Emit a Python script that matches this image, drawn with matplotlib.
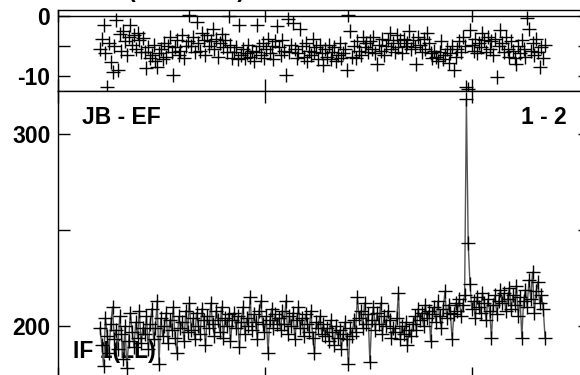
import numpy as np
import matplotlib
matplotlib.use("Agg")
import matplotlib.pyplot as plt

# ---- data ----
t_start = 0.203      # first sample time (axis units, 1 unit = major tick)
t_step = 0.008634    # sampling interval

amplitude = [
    199, 190, 179, 204, 195, 186, 201, 210, 193, 198, 188, 205, 196, 183, 200, 178, 192, 207, 197, 189, 202, 194, 208, 191, 199,
    196, 205, 188, 201, 209, 193, 199, 213, 180, 204, 195, 200, 207, 191, 203, 198, 210, 194, 186, 205, 199, 202, 192, 208, 197,
    212, 198, 204, 193, 207, 200, 196, 209, 203, 190, 205, 199, 212, 201, 195, 208, 203, 197, 210, 194, 204, 200, 206, 192, 203,
    207, 199, 205, 189, 202, 210, 196, 204, 200, 215, 198, 206, 202, 193, 208, 213, 201, 197, 205, 186, 203, 209, 199, 206, 201,
    204, 198, 208, 201, 213, 196, 205, 200, 207, 193, 203, 210, 199, 204, 195, 206, 201, 197, 208, 194, 186, 202, 199, 205, 196,
    201, 195, 199, 192, 203, 197, 190, 200, 194, 198, 188, 196, 202, 193, 180, 199, 195, 203, 197, 215, 204, 208, 199, 212, 201,
    206, 181, 203, 210, 198, 207, 201, 212, 196, 205, 200, 208, 203, 194, 199, 197, 204, 217, 193, 200, 196, 202, 190, 198, 195,
    201, 205, 198, 209, 203, 207, 200, 211, 204, 208, 192, 206, 210, 202, 213, 205, 199, 209, 218, 204, 211, 207, 193, 206, 212,
    208, 214, 205, 211, 216, 318, 243, 222, 209, 213, 204, 215, 210, 207, 217, 212, 203, 214, 208, 194, 211, 216, 206, 213, 219,
    212, 217, 208, 214, 220, 209, 216, 211, 221, 205, 215, 194, 213, 219, 210, 224, 214, 228, 207, 218, 223, 212, 216, 209, 194,
]

phase = [
    -5.5, -3.8, -1.5, -6.2, -11.8, -4.5, -7.6, -9.3, -5.0, -0.7, -9.0, -3.0, -5.8, -2.5, -4.2, -6.5, -3.5, -1.5, -4.8, -3.2, -5.5, -2.8, -4.0, -6.0, -3.6,
    -6.0, -8.7, -5.2, -7.0, -6.5, -4.8, -7.5, -8.5, -6.2, -5.5, -7.2, -4.5, -6.8, -5.0, -3.5, -6.0, -9.8, -5.2, -4.0, -6.5, -5.8, -3.2, -7.0, -5.0, -4.2,
    0.2, -5.0, -3.5, -6.0, -1.0, -4.5, -5.8, -2.8, -4.0, -6.5, -3.2, -5.0, -4.2, -2.2, -5.5, -3.8, -6.8, -4.5, -3.0, -5.2, -4.0, -6.0, 0.0, -4.8, -7.0,
    -6.0, -5.2, -7.2, -1.5, -6.5, -5.5, -7.0, -6.2, -4.8, -6.8, -5.8, -7.5, -6.0, -1.5, -5.0, -6.5, -4.5, -7.0, -5.5, -3.8, -6.2, -5.0, -7.2, -4.2, -1.7,
    -5.2, -6.5, -4.0, -5.8, -9.8, -0.5, -6.0, -4.8, -1.2, -5.5, -7.0, -6.2, -2.2, -5.0, -6.8, -4.5, -7.5, -5.8, -6.5, -3.8, -6.0, -5.2, -7.2, -4.8, -6.2,
    -8.2, -5.5, -6.8, -4.8, -7.2, -6.0, -5.2, -7.5, -6.5, -4.5, -7.0, -6.2, -5.5, -9.0, 0.2, -2.5, -6.8, -5.0, -7.0, -4.2, -5.8, -6.5, -3.5, -5.2, -4.5,
    -6.0, -4.2, -5.5, -3.5, -6.2, -8.0, -4.8, -5.8, -3.8, -6.5, -5.0, -4.0, -2.8, -5.5, -4.5, -6.0, -3.2, -5.2, -4.0, -6.2, -3.8, -5.0, -4.5, -2.5, -5.5,
    -4.0, -5.2, -8.0, -3.5, -4.8, -6.0, -3.8, -5.5, -2.8, -4.5, -6.2, -7.0, -5.8, -6.8, -7.5, -6.0, -4.2, -7.2, -6.5, -5.5, -7.8, -6.2, -5.0, -9.0, -6.8,
    -5.5, -4.2, -6.0, -3.5, -5.0, -11.8, -12.2, -2.3, -4.8, -5.8, -3.8, -6.2, -4.5, -5.2, -2.8, -4.0, -6.0, -3.5, -5.5, -4.2, -6.5, -3.8, -10.2, -5.0, -2.3,
    -4.5, -6.0, -3.5, -5.5, -6.8, -4.2, -5.8, -7.0, -8.0, -5.0, -6.2, -4.0, -5.5, -6.8, -0.3, -2.2, -5.8, -4.5, -6.5, -3.8, -6.0, -8.5, -5.2, -7.0, -4.8,
]

phase_ticks = [0, -5, -10]
phase_labels = ["0", "", "-10"]
amp_ticks = [200, 250, 300]
amp_labels = ["200", "", "300"]
time_ticks = [0, 1, 2]

baseline_label = "JB - EF"
if_label = "IF 1(LL)"
chan_label = "1 - 2"
title_text = "(1803+784)"

# ---- plotting ----
plt.rcParams["font.family"] = ["Liberation Sans", "DejaVu Sans"]
plt.rcParams["font.weight"] = "bold"
FS = 16.5

n = min(len(amplitude), len(phase))
t = t_start + t_step * np.arange(n)
amp = np.asarray(amplitude[:n], dtype=float)
ph = np.asarray(phase[:n], dtype=float)

W, H = 580, 375
fig = plt.figure(figsize=(W / 100, H / 100), dpi=100)

def fx(px):
    return px / W

def fy(py):
    return 1 - py / H

left, right = 58, 590
ax1 = fig.add_axes([fx(left), fy(91), fx(right - left), fy(10) - fy(91)])
ax2 = fig.add_axes([fx(left), fy(379), fx(right - left), fy(91) - fy(379)])

xlim = (0, (right - left) / 207.0)

for ax in (ax1, ax2):
    ax.set_xlim(*xlim)
    ax.set_xticks(time_ticks)
    ax.tick_params(axis="both", direction="in", length=8.6, width=1.0,
                   top=True, right=True, labelsize=FS, pad=5.5,
                   labelbottom=False)
    for s in ax.spines.values():
        s.set_linewidth(1.0)
        s.set_color("black")

ax1.set_ylim(-12.5, 1.0)
ax1.set_yticks(phase_ticks)
ax1.set_yticklabels(phase_labels, fontsize=FS, fontweight="bold")
ax1.axhline(0, color="black", lw=1.0, zorder=1)
ax1.plot(t, ph, linestyle="none", marker="+", markersize=9.5,
         markeredgewidth=1.0, color="black", zorder=3)

ax2.set_ylim(172.4, 322.4)
ax2.set_yticks(amp_ticks)
ax2.set_yticklabels(amp_labels, fontsize=FS, fontweight="bold")
ax2.plot(t, amp, linestyle="-", color="#555555", lw=1.0,
         marker="+", markersize=9.5, markeredgewidth=1.0,
         markeredgecolor="black", zorder=3)

ax2.text(fx(82), fy(124), baseline_label, transform=fig.transFigure,
         fontsize=FS, fontweight="bold", ha="left", va="baseline", zorder=1)
ax2.text(fx(567), fy(124), chan_label, transform=fig.transFigure,
         fontsize=FS, fontweight="bold", ha="right", va="baseline", zorder=1)
ax2.text(fx(73), fy(358), if_label, transform=fig.transFigure,
         fontsize=FS, fontweight="bold", ha="left", va="baseline", zorder=1)

fig.text(fx(128), fy(-2.5), title_text, fontsize=FS, fontweight="bold",
         ha="left", va="baseline")

fig.savefig("out.png", dpi=100)
